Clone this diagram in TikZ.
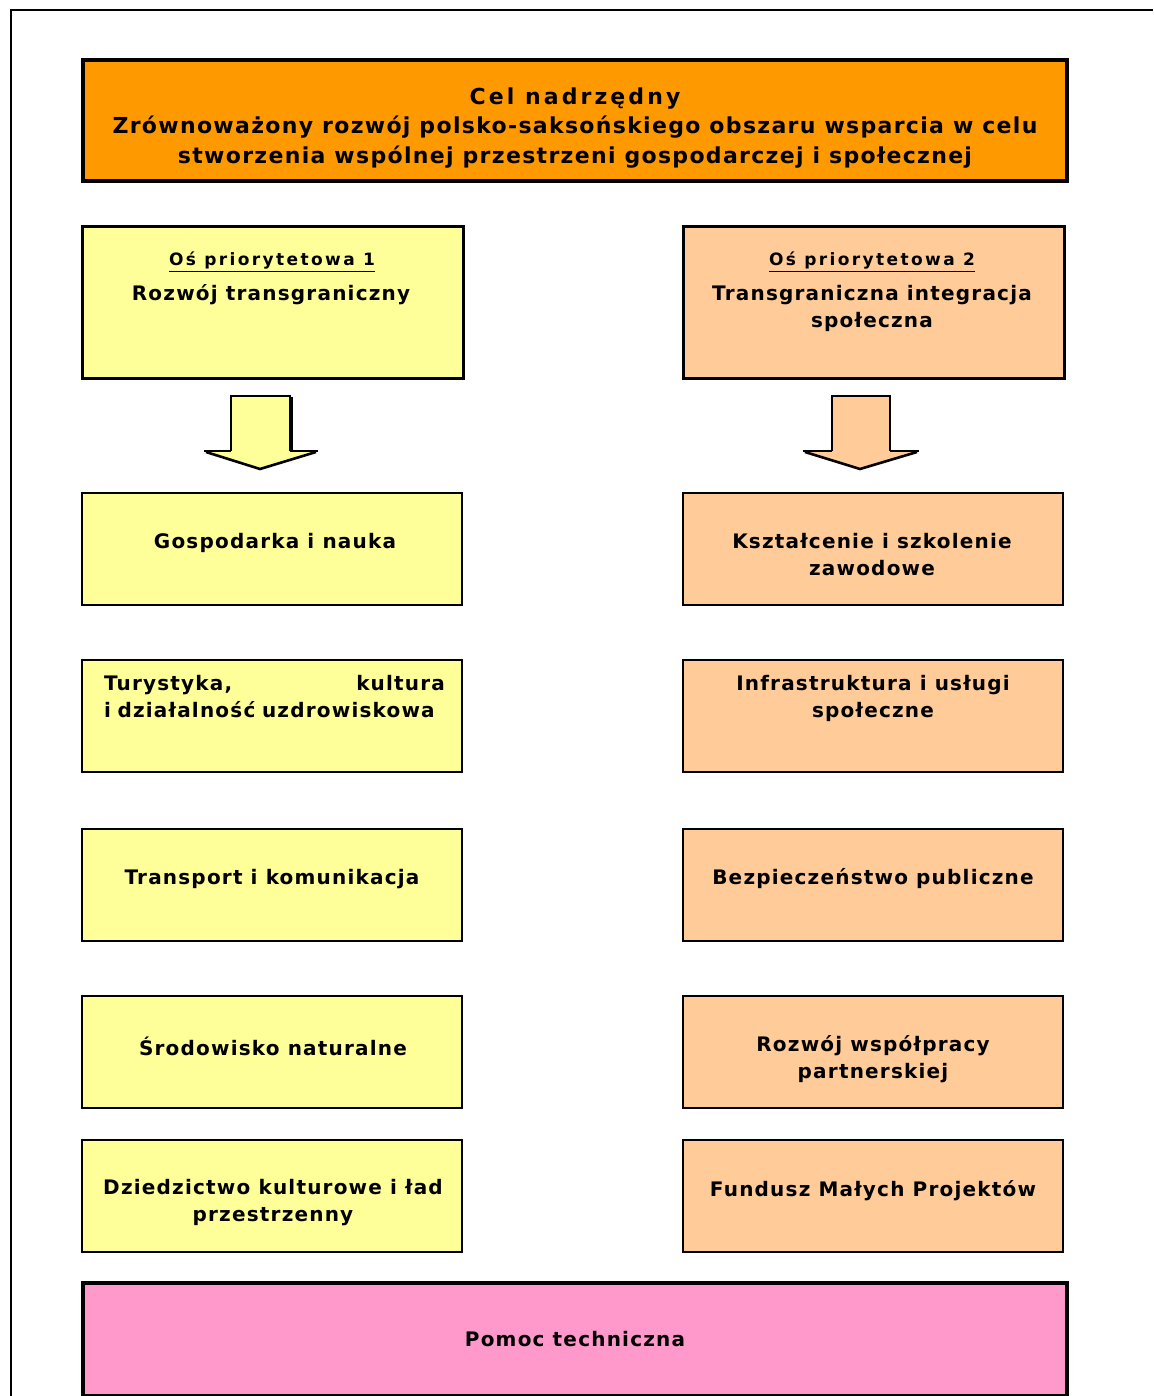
\documentclass[tikz,border=0pt]{standalone}
\usepackage{fontspec}
\setmainfont{DejaVu Sans}[LetterSpace=6]
\begin{document}
\begin{tikzpicture}[x=1pt,y=-1pt,
  every node/.style={inner sep=0pt,outer sep=0pt},
  bigbox/.style={draw=black,line width=4pt,rectangle,anchor=north west},
  axbox/.style={draw=black,line width=3pt,rectangle,anchor=north west},
  smallbox/.style={draw=black,line width=1.6pt,rectangle,anchor=north west,minimum width=380pt,minimum height=112pt},
  txt/.style={align=center,font=\fontsize{20}{27}\selectfont\bfseries},
  toptxt/.style={align=center,font=\fontsize{22}{29.5}\selectfont\bfseries},
  hdtxt/.style={align=center,font=\fontsize{17}{20}\selectfont\bfseries\addfontfeature{LetterSpace=14}},
  arr/.style={draw=black,line width=2pt,line join=miter}
]
\useasboundingbox (0,0) rectangle (1153,1396);
\fill[white] (0,0) rectangle (1153,1396);
% frame
\coordinate (fc) at (11,10);
\coordinate (fr) at (1153,10);
\coordinate (fb) at (11,1396);
\draw[line width=2.2pt] (fb) -- (fc) -- (fr);

\definecolor{org}{RGB}{255,153,0}
\definecolor{yel}{RGB}{255,255,153}
\definecolor{pch}{RGB}{255,204,153}
\definecolor{pnk}{RGB}{255,153,204}

% top box
\node[bigbox,fill=org,minimum width=984pt,minimum height=121pt] (top) at (83,60) {};
\node[toptxt] (toptext) at (575,128) {{\addfontfeature{LetterSpace=14}Cel nadrzędny}\\Zrównoważony rozwój polsko-saksońskiego obszaru wsparcia w celu\\stworzenia wspólnej przestrzeni gospodarczej i społecznej};

% axis boxes
\node[axbox,fill=yel,minimum width=381pt,minimum height=152pt] (ax1) at (82.5,226.5) {};
\node[axbox,fill=pch,minimum width=381pt,minimum height=152pt] (ax2) at (683.5,226.5) {};
\node[hdtxt] (ax1h) at (272,262) {\underline{Oś priorytetowa 1}};
\node[txt] (ax1t) at (271,295) {Rozwój transgraniczny};
\node[hdtxt] (ax2h) at (872,262) {\underline{Oś priorytetowa 2}};
\node[txt] (ax2t) at (872,308) {Transgraniczna integracja\\społeczna};

% arrows
\begin{scope}
\draw[line width=2pt,black] (292,397) -- (292,452);
\fill[yel] (231,396) -- (290,396) -- (290,451) -- (318,451) -- (260,469) -- (204,451) -- (231,451) -- cycle;
\draw[arr] (231,451) -- (231,396) -- (290,396) -- (290,451);
\draw[line width=2.6pt] (204,451) -- (231,451);
\draw[line width=2.6pt] (290,451) -- (318,451);
\draw[line width=2.6pt,line join=miter] (206,452) -- (260,469) -- (316,452);
\end{scope}
\begin{scope}
\fill[pch] (832,396) -- (890,396) -- (890,451) -- (919,451) -- (860,469) -- (803,451) -- (832,451) -- cycle;
\draw[arr] (832,451) -- (832,396) -- (890,396) -- (890,451);
\draw[line width=2.6pt] (803,451) -- (832,451);
\draw[line width=2.6pt] (890,451) -- (919,451);
\draw[line width=2.6pt,line join=miter] (805,452) -- (860,469) -- (917,452);
\end{scope}

% left column boxes
\node[smallbox,fill=yel] (l1) at (82,493) {};
\node[smallbox,fill=yel] (l2) at (82,660) {};
\node[smallbox,fill=yel] (l3) at (82,829) {};
\node[smallbox,fill=yel] (l4) at (82,996) {};
\node[smallbox,fill=yel] (l5) at (82,1140) {};
% right column boxes
\node[smallbox,fill=pch] (r1) at (683,493) {};
\node[smallbox,fill=pch] (r2) at (683,660) {};
\node[smallbox,fill=pch] (r3) at (683,829) {};
\node[smallbox,fill=pch] (r4) at (683,996) {};
\node[smallbox,fill=pch] (r5) at (683,1140) {};

% left texts
\node[txt] (l1t) at (275,543) {Gospodarka i nauka};
\node[txt,align=left,text width=341pt,anchor=west] (l2t) at (104,697) {Turystyka,\hfill kultura\\i działalność uzdrowiskowa};
\node[txt] (l3t) at (272,879) {Transport i komunikacja};
\node[txt] (l4t) at (273,1046) {Środowisko naturalne};
\node[txt] (l5t) at (273,1203) {Dziedzictwo kulturowe i ład\\przestrzenny};
% right texts
\node[txt] (r1t) at (872,555) {Kształcenie i szkolenie\\zawodowe};
\node[txt] (r2t) at (873,698) {Infrastruktura i usługi\\społeczne};
\node[txt] (r3t) at (873,879) {Bezpieczeństwo publiczne};
\node[txt] (r4t) at (873,1059) {Rozwój współpracy\\partnerskiej};
\node[txt] (r5t) at (873,1191) {Fundusz Małych Projektów};

% bottom box
\node[bigbox,fill=pnk,minimum width=984pt,minimum height=113pt] (bot) at (83,1283) {};
\node[txt] (bott) at (575,1339) {Pomoc techniczna};
\end{tikzpicture}
\end{document}
